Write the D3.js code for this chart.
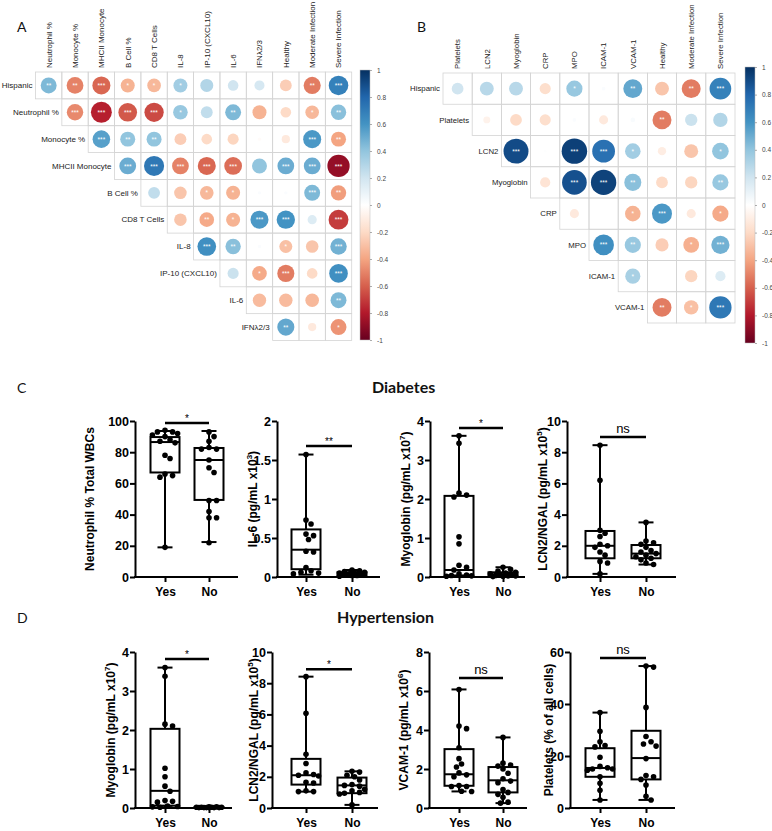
<!DOCTYPE html>
<html>
<head>
<meta charset="utf-8">
<script src="https://cdn.jsdelivr.net/npm/d3@7"></script>
<style>
  body { margin: 0; background: #fff; }
  svg { display: block; }
</style>
</head>
<body>
<div id="fig"></div>
<script>
// ---------- Panel A: correlation matrix (row i holds columns i..end)
const colsA = ["Neutrophil %", "Monocyte %", "MHCII Monocyte", "B Cell %", "CD8 T Cells", "IL-8",
  "IP-10 (CXCL10)", "IL-6", "IFNλ2/3", "Healthy", "Moderate Infection", "Severe Infection"];
const rowsA = ["Hispanic", "Neutrophil %", "Monocyte %", "MHCII Monocyte", "B Cell %", "CD8 T Cells",
  "IL-8", "IP-10 (CXCL10)", "IL-6", "IFNλ2/3"];
const corrA = [
  [0.45, -0.5, -0.58, -0.35, -0.33, 0.35, 0.3, 0.2, 0.18, -0.25, -0.52, 0.68],
  [-0.48, -0.78, -0.62, -0.66, 0.38, 0.25, 0.45, -0.35, -0.2, -0.33, 0.42],
  [0.55, 0.4, 0.4, -0.25, -0.2, -0.22, -0.02, -0.12, 0.58, -0.4],
  [0.5, 0.72, -0.5, -0.58, -0.56, 0.4, 0.5, 0.5, -0.88],
  [0.25, -0.28, -0.33, -0.35, 0.02, 0.02, 0.45, -0.42],
  [-0.28, -0.38, -0.35, 0.58, 0.6, 0.15, -0.7],
  [0.62, 0.42, 0.02, -0.3, -0.28, 0.48],
  [0.22, -0.38, -0.52, -0.2, 0.62],
  [-0.32, -0.32, -0.33, 0.45],
  [0.52, -0.12, -0.45]
];
const sigA = [
  ["**", "**", "***", "*", "*", "*", "", "", "", "", "**", "***"],
  ["***", "***", "***", "***", "*", "", "**", "", "", "*", "**"],
  ["***", "**", "**", "", "", "", "", "", "***", "**"],
  ["***", "***", "***", "***", "***", "", "***", "***", "***"],
  ["", "", "*", "*", "", "", "***", "**"],
  ["", "**", "*", "***", "***", "", "***"],
  ["***", "**", "", "*", "", "***"],
  ["", "*", "***", "", "***"],
  ["", "", "", "**"],
  ["**", "", "*"]
];

// ---------- Panel B
const colsB = ["Platelets", "LCN2", "Myoglobin", "CRP", "MPO", "ICAM-1", "VCAM-1", "Healthy",
  "Moderate Infection", "Severe Infection"];
const rowsB = ["Hispanic", "Platelets", "LCN2", "Myoglobin", "CRP", "MPO", "ICAM-1", "VCAM-1"];
const corrB = [
  [0.2, 0.28, 0.28, -0.18, 0.38, 0.02, 0.52, -0.28, -0.52, 0.68],
  [-0.07, -0.2, -0.18, 0.02, -0.12, 0.03, -0.52, 0.22, 0.3],
  [0.9, 0.01, 0.94, 0.75, 0.35, -0.1, -0.28, 0.4],
  [-0.15, 0.88, 0.93, 0.42, -0.2, -0.22, 0.38],
  [-0.12, 0, -0.35, 0.58, -0.12, -0.38],
  [0.62, 0.38, -0.25, -0.36, 0.48],
  [0.33, 0, -0.22, 0.15],
  [-0.52, -0.3, 0.72]
];
const sigB = [
  ["", "", "", "", "*", "", "**", "", "**", "***"],
  ["", "", "", "", "", "", "**", "", ""],
  ["***", "", "***", "***", "*", "", "", "*"],
  ["", "***", "***", "**", "", "", "**"],
  ["", "", "*", "***", "", "*"],
  ["***", "**", "", "*", "***"],
  ["*", "", "", ""],
  ["**", "*", "***"]
];
const barTicks = [1, 0.8, 0.6, 0.4, 0.2, 0, -0.2, -0.4, -0.6, -0.8, -1];

// ---------- Panels C/D: box plots, box = [min, q1, median, q3, max]
const groups = ["Yes", "No"];

const neutYes = [94, 93, 93, 92, 91, 90, 88, 87, 86, 78, 76, 66, 65, 64, 19];
const neutNo = [93, 90, 87, 83, 82, 82, 75, 70, 67, 49, 49, 42, 38, 38, 22];
const neutBox = [[19, 67, 86.5, 89.7, 93.6], [22.4, 49.4, 75, 82.7, 93.6]];

const il6Yes = [1.57, 0.73, 0.68, 0.55, 0.53, 0.48, 0.33, 0.32, 0.12, 0.08, 0.06, 0.05, 0.04];
const il6No = [0.09, 0.08, 0.07, 0.06, 0.05, 0.05, 0.04, 0.04, 0.03, 0.03, 0.02, 0.02, 0.01];
const il6Box = [[0.03, 0.1, 0.35, 0.61, 1.57], [0.01, 0.02, 0.04, 0.06, 0.09]];

const myoDYes = [3.62, 3.43, 2.15, 2.1, 2.05, 1.03, 0.85, 0.3, 0.25, 0.18, 0.08, 0.05, 0.04, 0.03, 0.02];
const myoDNo = [0.25, 0.2, 0.15, 0.12, 0.1, 0.08, 0.06, 0.05, 0.04, 0.03, 0.03, 0.02, 0.01];
const myoDBox = [[0.02, 0.04, 0.18, 2.08, 3.62], [0.01, 0.03, 0.06, 0.12, 0.25]];

const lcnDYes = [8.45, 6.2, 3.0, 2.8, 2.6, 2.1, 2.0, 1.9, 1.6, 1.4, 1.0, 0.9, 0.2];
const lcnDNo = [3.5, 2.3, 2.2, 2.1, 1.9, 1.7, 1.6, 1.5, 1.4, 1.3, 1.2, 1.1, 0.9, 0.8];
const lcnDBox = [[0.2, 1.2, 2.0, 2.95, 8.45], [0.8, 1.2, 1.5, 2.05, 3.5]];

const myoHYes = [3.6, 3.38, 2.15, 2.1, 1.02, 0.8, 0.56, 0.43, 0.19, 0.17, 0.15, 0.05, 0.04, 0.03, 0.02];
const myoHNo = [0.03, 0.03, 0.02, 0.02, 0.02, 0.02, 0.01, 0.01, 0.01, 0.01, 0.01, 0.01];
const myoHBox = [[0.02, 0.06, 0.44, 2.03, 3.6], [0.01, 0.01, 0.015, 0.02, 0.03]];

const lcnHYes = [8.42, 6.07, 3.44, 2.85, 2.25, 2.15, 2.1, 2.05, 1.65, 1.6, 1.1, 1.05, 1.05];
const lcnHNo = [2.35, 2.3, 2.1, 2.0, 1.8, 1.5, 1.45, 1.4, 1.2, 1.1, 1.0, 0.95, 0.9, 0.2];
const lcnHBox = [[1.05, 1.5, 2.1, 3.15, 8.42], [0.2, 0.95, 1.45, 1.95, 2.35]];

const vcamYes = [6.08, 4.2, 4.07, 3.09, 2.53, 2.26, 2.1, 1.8, 1.7, 1.6, 1.15, 1.1, 1.1, 0.86, 0.85];
const vcamNo = [3.62, 2.3, 2.2, 2.15, 2.0, 1.78, 1.5, 1.38, 1.3, 0.95, 0.8, 0.7, 0.55, 0.3, 0.25];
const vcamBox = [[0.85, 1.14, 1.73, 3.02, 6.08], [0.25, 0.8, 1.42, 2.1, 3.62]];

const pltYes = [36.7, 29.5, 25.5, 24, 23.5, 19.5, 16, 15.5, 15, 15, 14.5, 12, 9.5, 6.8, 3.1];
const pltNo = [54.6, 54.2, 38.7, 27.5, 25.5, 24.6, 23.8, 19, 12.5, 12, 11, 8.8, 4.5, 3.1];
const pltBox = [[3.1, 12, 15.4, 23, 36.7], [3.1, 11, 19.2, 29.7, 54.6]];

const ticksC = [[0, 20, 40, 60, 80, 100], [0, 0.5, 1, 1.5, 2], [0, 1, 2, 3, 4], [0, 2, 4, 6, 8, 10]];
const ticksD = [[0, 1, 2, 3, 4], [0, 2, 4, 6, 8, 10], [0, 2, 4, 6, 8], [0, 20, 40, 60]];
const yLabelsC = [["Neutrophil % Total WBCs", "", ""], ["IL-6 (pg/mL x10", "3", ")"],
  ["Myoglobin (pg/mL x10", "7", ")"], ["LCN2/NGAL (pg/mL x10", "5", ")"]];
const yLabelsD = [["Myoglobin (pg/mL x10", "7", ")"], ["LCN2/NGAL (pg/mL x10", "5", ")"],
  ["VCAM-1 (pg/mL x10", "6", ")"], ["Platelets (% of all cells)", "", ""]];
const sigTextC = ["*", "**", "*", "ns"];
const sigTextD = ["*", "*", "ns", "ns"];
const sigLevelC = [98.7, 1.68, 3.82, 8.97];
const sigLevelD = [3.82, 8.9, 6.67, 57.7];

// ---------- drawing
const fontCorr = "'Liberation Sans', Arial, sans-serif";
const fontPlot = "'Liberation Sans', Arial, sans-serif";
const corrColors = ["#67001F", "#B2182B", "#D6604D", "#F4A582", "#FDDBC7", "#FFFFFF",
  "#D1E5F0", "#92C5DE", "#4393C3", "#2166AC", "#053061"];
const corrColor = d3.scaleLinear().domain(d3.range(11).map(i => -1 + i * 0.2)).range(corrColors);

const svg = d3.select("#fig").append("svg").attr("width", 772).attr("height", 831);

const defs = svg.append("defs");
const grad = defs.append("linearGradient").attr("id", "cbar")
  .attr("x1", 0).attr("y1", 0).attr("x2", 0).attr("y2", 1);
corrColors.slice().reverse().forEach((c, i) => {
  grad.append("stop").attr("offset", i / 10).attr("stop-color", c);
});

function corrPanel(cfg) {
  const g = svg.append("g");
  const nCol = cfg.cols.length;
  const x = d3.scaleBand().domain(d3.range(nCol)).range([cfg.x0, cfg.x0 + cfg.cw * nCol]);
  const y = d3.scaleBand().domain(d3.range(cfg.rows.length)).range([cfg.y0, cfg.y0 + cfg.ch * cfg.rows.length]);
  const rMax = 0.45 * Math.min(cfg.cw, cfg.ch);

  cfg.rows.forEach((rowName, i) => {
    cfg.vals[i].forEach((v, k) => {
      const j = i + k;
      g.append("rect")
        .attr("x", x(j)).attr("y", y(i))
        .attr("width", x.bandwidth()).attr("height", y.bandwidth())
        .attr("fill", "none").attr("stroke", "#d4d4d4").attr("stroke-width", 0.8);
      const cx = x(j) + x.bandwidth() / 2, cy = y(i) + y.bandwidth() / 2;
      if (Math.abs(v) > 0.005) {
        g.append("circle").attr("cx", cx).attr("cy", cy)
          .attr("r", rMax * Math.sqrt(Math.abs(v)))
          .attr("fill", corrColor(v));
      }
      const s = cfg.sigs[i][k];
      if (s) {
        g.append("text").attr("x", cx).attr("y", cy + 2.6)
          .attr("text-anchor", "middle").attr("font-family", fontCorr)
          .attr("font-size", 6.5).attr("fill", "#fff").text(s);
      }
    });
    g.append("text")
      .attr("x", x(i) - 3).attr("y", y(i) + y.bandwidth() / 2)
      .attr("dy", "0.35em").attr("text-anchor", "end")
      .attr("font-family", fontCorr).attr("font-size", cfg.fs).attr("fill", "#222")
      .text(rowName);
  });

  cfg.cols.forEach((c, j) => {
    const cx = x(j) + x.bandwidth() / 2 + cfg.fs * 0.36;
    g.append("text")
      .attr("transform", `translate(${cx},${cfg.labelY}) rotate(-90)`)
      .attr("font-family", fontCorr).attr("font-size", cfg.fs).attr("fill", "#222")
      .text(c);
  });

  // colour bar
  const b = cfg.bar;
  g.append("rect").attr("x", b.x).attr("y", b.y0).attr("width", b.w).attr("height", b.y1 - b.y0)
    .attr("fill", "url(#cbar)").attr("stroke", "#bbb").attr("stroke-width", 0.5);
  const yb = d3.scaleLinear().domain([-1, 1]).range([b.y1, b.y0]);
  const ax = g.append("g").attr("transform", `translate(${b.x + b.w},0)`)
    .call(d3.axisRight(yb).tickValues(barTicks).tickSize(2).tickPadding(5).tickFormat(d => String(d)));
  ax.select(".domain").remove();
  ax.attr("font-family", fontCorr).attr("font-size", 6.5);
  ax.selectAll("text").attr("fill", "#444");
  ax.selectAll("line").attr("stroke", "#777").attr("stroke-width", 0.6);
}

corrPanel({ cols: colsA, rows: rowsA, vals: corrA, sigs: sigA, x0: 35.5, y0: 72, cw: 26.35, ch: 26.85,
  labelY: 68, fs: 8, bar: { x: 360, y0: 70, y1: 340, w: 10 } });
corrPanel({ cols: colsB, rows: rowsB, vals: corrB, sigs: sigB, x0: 443, y0: 73, cw: 29.2, ch: 31.25,
  labelY: 69, fs: 7.8, bar: { x: 745, y0: 67, y1: 343, w: 10 } });

// panel letters and section titles
[["A", 17, 32], ["B", 417, 32], ["C", 17, 393], ["D", 17, 623]].forEach(([t, x, y]) => {
  svg.append("text").attr("x", x).attr("y", y).attr("font-family", "Lato, 'Open Sans', sans-serif")
    .attr("font-size", 14).attr("fill", "#111").text(t);
});
[["Diabetes", 372, 393], ["Hypertension", 337, 623]].forEach(([t, x, y]) => {
  svg.append("text").attr("x", x).attr("y", y).attr("font-family", "Lato, 'Open Sans', sans-serif")
    .attr("font-weight", "bold").attr("font-size", 16).attr("fill", "#111").text(t);
});

// deterministic beeswarm offsets, spread limited to the box width
function swarm(vals, y, r, maxOff) {
  const placed = [];
  return vals.map(v => {
    const py = y(v);
    let best = 0, bestD = -1;
    for (let k = 0; ; k++) {
      const cand = k === 0 ? 0 : (k % 2 ? 1 : -1) * Math.ceil(k / 2) * r * 0.9;
      if (Math.abs(cand) > maxOff) break;
      const dmin = placed.length ? d3.min(placed, p => Math.hypot(p.x - cand, p.y - py)) : Infinity;
      if (dmin >= 2 * r + 0.2) { best = cand; break; }
      if (dmin > bestD) { bestD = dmin; best = cand; }
    }
    placed.push({ x: best, y: py });
    return best;
  });
}

function boxPlot(p) {
  const g = svg.append("g");
  const y = d3.scaleLinear().domain([0, p.ticks[p.ticks.length - 1]]).range([p.bottom, p.top]);
  const x = d3.scalePoint().domain(groups).range(p.xs);
  const boxW = 29, capW = 15, dotR = 2.8;

  groups.forEach((grp, k) => {
    const [mn, q1, md, q3, mx] = p.box[k];
    const cx = x(grp);
    g.append("line").attr("x1", cx).attr("x2", cx).attr("y1", y(mn)).attr("y2", y(mx))
      .attr("stroke", "#000").attr("stroke-width", 2);
    [mn, mx].forEach(v => g.append("line").attr("x1", cx - capW / 2).attr("x2", cx + capW / 2)
      .attr("y1", y(v)).attr("y2", y(v)).attr("stroke", "#000").attr("stroke-width", 2));
    g.append("rect").attr("x", cx - boxW / 2).attr("y", y(q3))
      .attr("width", boxW).attr("height", Math.max(0.5, y(q1) - y(q3)))
      .attr("fill", "#fff").attr("stroke", "#000").attr("stroke-width", 2);
    g.append("line").attr("x1", cx - boxW / 2).attr("x2", cx + boxW / 2)
      .attr("y1", y(md)).attr("y2", y(md)).attr("stroke", "#000").attr("stroke-width", 2);
    const offs = swarm(p.vals[k], y, dotR, 13);
    g.selectAll(null).data(p.vals[k]).enter().append("circle")
      .attr("cx", (d, i) => cx + offs[i]).attr("cy", d => y(d))
      .attr("r", dotR).attr("fill", "#000");
  });

  const ya = g.append("g").attr("transform", `translate(${p.ax},0)`)
    .call(d3.axisLeft(y).tickValues(p.ticks).tickSize(5).tickSizeOuter(0).tickPadding(1)
      .tickFormat(d3.format("~g")));
  ya.attr("font-family", fontPlot).attr("font-size", 12.5).attr("font-weight", "bold");
  ya.selectAll("path, line").attr("stroke-width", 2);

  const xa = g.append("g").attr("transform", `translate(0,${p.bottom})`)
    .call(d3.axisBottom(x).tickSize(5).tickPadding(5));
  xa.select(".domain").remove();
  xa.attr("font-family", fontPlot).attr("font-size", 12).attr("font-weight", "bold");
  xa.selectAll("line").attr("stroke-width", 2);
  g.append("line").attr("x1", p.ax - 1).attr("x2", p.xEnd).attr("y1", p.bottom).attr("y2", p.bottom)
    .attr("stroke", "#000").attr("stroke-width", 2);

  // y label
  const lt = g.append("text")
    .attr("transform", `translate(${p.labelX + 4.5},${(p.top + p.bottom) / 2}) rotate(-90)`)
    .attr("text-anchor", "middle").attr("font-family", fontPlot)
    .attr("font-size", 12).attr("font-weight", "bold");
  lt.append("tspan").text(p.label[0]);
  if (p.label[1]) {
    lt.append("tspan").attr("dy", -5).attr("font-size", 8).text(p.label[1]);
    lt.append("tspan").attr("dy", 5).text(p.label[2]);
  }

  // significance bar
  const sy = y(p.sigY);
  g.append("line").attr("x1", p.xs[0]).attr("x2", p.xs[1]).attr("y1", sy).attr("y2", sy)
    .attr("stroke", "#000").attr("stroke-width", 2.5);
  const ns = p.sig === "ns";
  g.append("text").attr("x", (p.xs[0] + p.xs[1]) / 2).attr("y", ns ? sy - 4 : sy - 1)
    .attr("text-anchor", "middle").attr("font-family", fontPlot)
    .attr("font-size", ns ? 13 : 10).text(p.sig);
}

const colXs = [[165, 209], [306, 352], [459, 503], [600, 646]];
const valsC = [[neutYes, neutNo], [il6Yes, il6No], [myoDYes, myoDNo], [lcnDYes, lcnDNo]];
const boxC = [neutBox, il6Box, myoDBox, lcnDBox];
const valsD = [[myoHYes, myoHNo], [lcnHYes, lcnHNo], [vcamYes, vcamNo], [pltYes, pltNo]];
const boxD = [myoHBox, lcnHBox, vcamBox, pltBox];
const axC = [135, 277, 430, 567], endC = [238, 380, 525, 676], labC = [89, 252, 405, 542];
const axD = [135, 272, 429, 570], endD = [232, 378, 527, 675], labD = [110, 253, 403, 548];

for (let i = 0; i < 4; i++) {
  boxPlot({ vals: valsC[i], box: boxC[i], ticks: ticksC[i], label: yLabelsC[i], sig: sigTextC[i],
    sigY: sigLevelC[i], ax: axC[i], xEnd: endC[i], labelX: labC[i], xs: colXs[i], top: 421, bottom: 577 });
  boxPlot({ vals: valsD[i], box: boxD[i], ticks: ticksD[i], label: yLabelsD[i], sig: sigTextD[i],
    sigY: sigLevelD[i], ax: axD[i], xEnd: endD[i], labelX: labD[i], xs: colXs[i], top: 652, bottom: 808 });
}
</script>
</body>
</html>
